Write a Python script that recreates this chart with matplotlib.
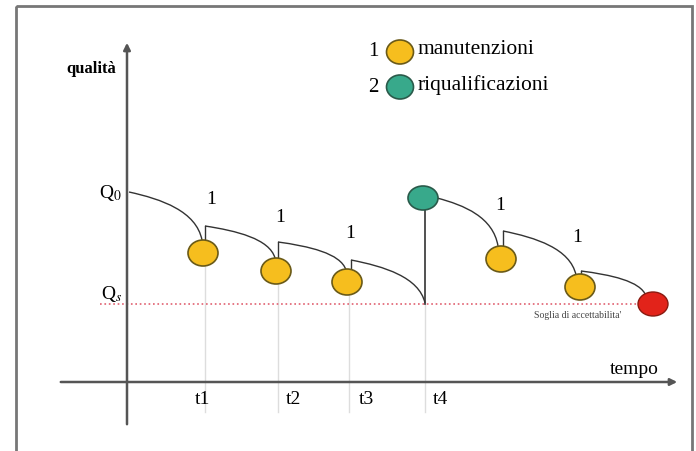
import matplotlib
matplotlib.use("Agg")
import matplotlib.pyplot as plt
from matplotlib.patches import Ellipse, PathPatch, Rectangle
from matplotlib.path import Path

plt.rcParams["mathtext.fontset"] = "stix"

# diagram values, in picture units (x = tempo, y grows downward)
segStartX = [129, 205, 278, 351, 437, 503, 581]
segStartY = [192, 226, 242, 260, 198, 231, 271]
segEndX = [202, 275, 346, 425, 498, 576, 646]
segEndY = [240, 258, 270, 303, 246, 275, 296]

maintX = [203, 276, 347, 501, 580]
maintY = [253, 271, 282, 259, 287]
requalX = [423]
requalY = [198]
failX = [653]
failY = [304]

tickX = [205, 278, 349, 425]
tickLabels = ["t1", "t2", "t3", "t4"]
tickLabelX = [202, 293, 366, 440]
oneX = [211, 280, 350, 500, 577]
oneY = [200, 218, 234, 205, 238]

q0Y = 192
qsY = 304

yellow = "#F6BE1E"
green = "#38A98B"
red = "#E2231A"
serif = "Liberation Serif"

fig = plt.figure(figsize=(6.96, 4.51), dpi=100)
ax = fig.add_axes([0, 0, 1, 1])
ax.set_xlim(0, 696)
ax.set_ylim(451, 0)
ax.axis("off")

# frame
ax.add_patch(Rectangle((16, 6), 676, 460, fill=False, edgecolor="#777777", lw=2))

# guide lines under the events
for i, x in enumerate(tickX):
  top = maintY[i] + 13 if i < 3 else qsY
  ax.plot([x, x], [top, 412], color="#dddddd", lw=1)

# threshold line
ax.plot([100, 662], [qsY, qsY], color="#e06070", lw=1.2, linestyle=":")

# axes with arrows
ax.annotate("", xy=(127, 40), xytext=(127, 427),
            arrowprops=dict(arrowstyle="-|>", color="#555555", lw=1.8, mutation_scale=10))
ax.annotate("", xy=(680, 382), xytext=(58, 382),
            arrowprops=dict(arrowstyle="-|>", color="#555555", lw=1.8, mutation_scale=10))

# decay curves
for x0, y0, x1, y1 in zip(segStartX, segStartY, segEndX, segEndY):
  dx = x1 - x0
  dy = y1 - y0
  verts = [(x0, y0), (x0 + 0.45 * dx, y0 + 0.15 * dy), (x1 - 0.08 * dx, y0 + 0.4 * dy), (x1, y1)]
  codes = [Path.MOVETO, Path.CURVE4, Path.CURVE4, Path.CURVE4]
  ax.add_patch(PathPatch(Path(verts, codes), fill=False, edgecolor="#333333", lw=1))

# jumps after maintenance
for i in range(1, 7):
  if i == 4:
    continue
  prev = i - 1 if i < 4 else i - 2
  ax.plot([segStartX[i], segStartX[i]], [maintY[prev] - 12, segStartY[i]], color="#333333", lw=1)

# requalification jump
ax.plot([tickX[3], tickX[3]], [qsY, requalY[0] + 11], color="#333333", lw=1.2)

for x, y in zip(maintX, maintY):
  ax.add_patch(Ellipse((x, y), 30, 26, facecolor=yellow, edgecolor="#6a5a18", lw=1.2, zorder=3))
for x, y in zip(requalX, requalY):
  ax.add_patch(Ellipse((x, y), 30, 24, facecolor=green, edgecolor="#2a5a4a", lw=1.2, zorder=3))
for x, y in zip(failX, failY):
  ax.add_patch(Ellipse((x, y), 30, 24, facecolor=red, edgecolor="#8a1a10", lw=1, zorder=3))

for x, y in zip(oneX, oneY):
  ax.text(x, y, "1", fontsize=14, family=serif, ha="center", va="center")

for x, lab in zip(tickLabelX, tickLabels):
  ax.text(x, 400, lab, fontsize=14, family=serif, ha="center", va="center")

# labels
ax.text(91, 69, "qualità", fontsize=12, family=serif, weight="bold", ha="center", va="center")
ax.text(634, 370, "tempo", fontsize=14, family=serif, ha="center", va="center")
ax.text(122, 193, "Q$_0$", fontsize=14, family=serif, ha="right", va="center")
ax.text(122, 294, "Q$_s$", fontsize=14, family=serif, ha="right", va="center")
ax.text(578, 316, "Soglia di accettabilita'", fontsize=7, family=serif, ha="center", va="center", color="#444444")

# legend
ax.text(373, 52, "1", fontsize=15, family=serif, ha="center", va="center")
ax.add_patch(Ellipse((400, 52), 27, 24, facecolor=yellow, edgecolor="#6a5a18", lw=1.2))
ax.text(418, 50, "manutenzioni", fontsize=15.5, family=serif, ha="left", va="center")
ax.text(373, 87, "2", fontsize=15, family=serif, ha="center", va="center")
ax.add_patch(Ellipse((400, 87), 27, 24, facecolor=green, edgecolor="#2a5a4a", lw=1.2))
ax.text(418, 85, "riqualificazioni", fontsize=15.5, family=serif, ha="left", va="center")

fig.savefig("out.png", dpi=100)
